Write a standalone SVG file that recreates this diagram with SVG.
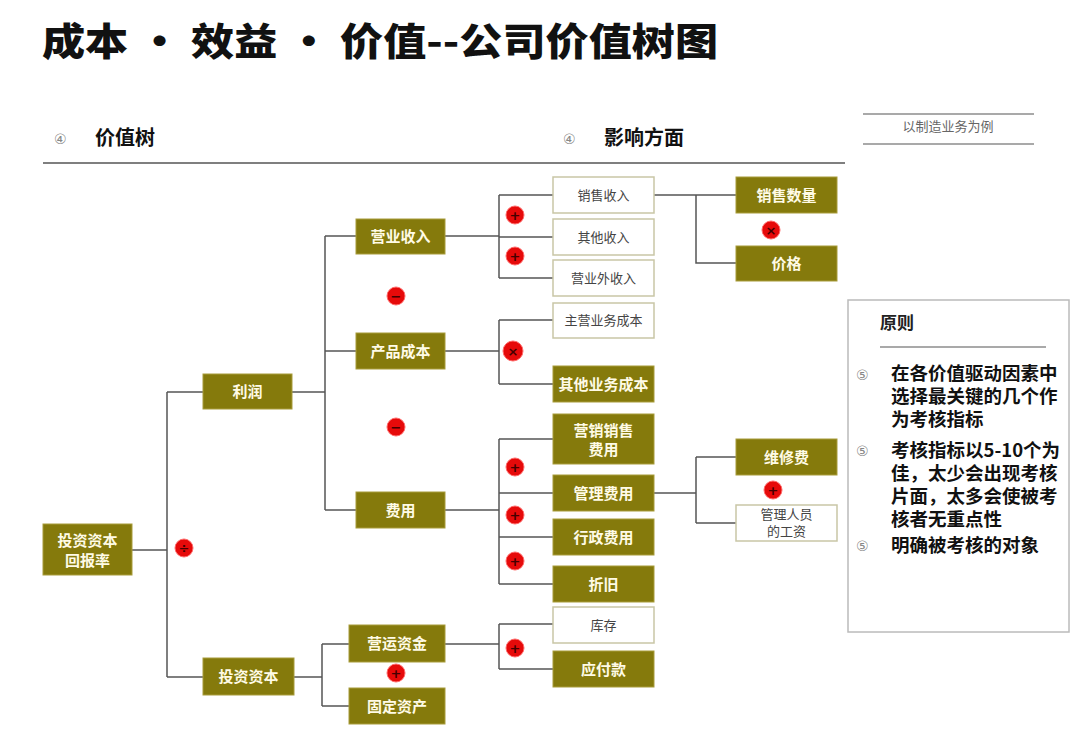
<svg xmlns="http://www.w3.org/2000/svg" width="1080" height="740" viewBox="0 0 1080 740">
<style>
.ol{fill:#857a0c;stroke:#a89c3a;stroke-width:1}
.wb{fill:#ffffff;stroke:#c9c6a6;stroke-width:1.5}
.tw{font-family:"Noto Sans CJK SC",sans-serif;font-weight:700;font-size:15px;fill:#fffbe6;text-anchor:middle}
.tg{font-family:"Noto Sans CJK SC",sans-serif;font-size:13px;fill:#444;text-anchor:middle}
.cn path,.cn line{fill:none;stroke:#555;stroke-width:1.5}
.op circle{fill:#e60a0a;stroke:#ff6b6b;stroke-width:1}
.op text{font-family:"DejaVu Sans",sans-serif;font-weight:700;font-size:13px;fill:#400;text-anchor:middle}
.hd{font-family:"Noto Sans CJK SC",sans-serif;font-weight:700;font-size:20px;fill:#111}
.bl{font-family:"DejaVu Sans",sans-serif;font-size:14px;fill:#888}
.pr{font-family:"Noto Sans CJK SC",sans-serif;font-weight:700;font-size:18.5px;fill:#111}
</style>
<rect width="1080" height="740" fill="#fff"/>
<text x="42" y="55" font-family="Noto Sans CJK SC,sans-serif" font-weight="900" font-size="38" fill="#111" textLength="676" lengthAdjust="spacingAndGlyphs">成本 · 效益 · 价值--公司价值树图</text>

<g id="headers">
<text class="bl" x="54" y="144">④</text>
<text class="hd" x="95" y="145">价值树</text>
<text class="bl" x="563" y="144">④</text>
<text class="hd" x="604" y="145">影响方面</text>
<line x1="43" y1="163" x2="845" y2="163" stroke="#555" stroke-width="1.5"/>
<line x1="863" y1="114" x2="1034" y2="114" stroke="#555" stroke-width="1.2"/>
<line x1="863" y1="144" x2="1034" y2="144" stroke="#555" stroke-width="1.2"/>
<text x="948" y="131" font-family="Noto Sans CJK SC,sans-serif" font-size="13" fill="#666" text-anchor="middle">以制造业务为例</text>
</g>

<g class="cn" id="connectors">
<path d="M132,550 H167 M167,392 V677 M167,392 H203 M167,677 H203"/>
<path d="M292,392 H325 M325,236 V510 M325,236 H356 M325,351 H356 M325,510 H356"/>
<path d="M445,236 H499 M499,195 V278 M499,195 H553 M499,237 H553 M499,278 H553"/>
<path d="M445,351 H499 M499,320 V384 M499,320 H553 M499,384 H553"/>
<path d="M445,510 H499 M499,439 V584 M499,439 H553 M499,493 H553 M499,537 H553 M499,584 H553"/>
<path d="M654,195 H736 M696,195 V263 H736"/>
<path d="M654,493 H696 M696,457 V523 M696,457 H736 M696,523 H736"/>
<path d="M294,677 H322 M322,644 V706 M322,644 H349 M322,706 H349"/>
<path d="M445,644 H499 M499,624 V669 M499,624 H553 M499,669 H553"/>
</g>

<g class="op" id="operators">
<circle cx="184" cy="548" r="9"/><text x="184" y="553">÷</text>
<circle cx="396" cy="296" r="9"/><text x="396" y="301">−</text>
<circle cx="396" cy="427" r="9"/><text x="396" y="432">−</text>
<circle cx="515" cy="215" r="9"/><text x="515" y="220">+</text>
<circle cx="515" cy="256" r="9"/><text x="515" y="261">+</text>
<circle cx="513" cy="351" r="10"/><text x="513" y="356">×</text>
<circle cx="515" cy="467" r="9"/><text x="515" y="472">+</text>
<circle cx="515" cy="515" r="9"/><text x="515" y="520">+</text>
<circle cx="515" cy="561" r="9"/><text x="515" y="566">+</text>
<circle cx="771" cy="230" r="9"/><text x="771" y="235">×</text>
<circle cx="773" cy="490" r="9"/><text x="773" y="495">+</text>
<circle cx="396" cy="673" r="9"/><text x="396" y="678">+</text>
<circle cx="515" cy="648" r="9"/><text x="515" y="653">+</text>
</g>

<g id="n-roic"><rect class="ol" x="43" y="524" width="89" height="51"/><text class="tw" x="87.5" y="546">投资资本</text><text class="tw" x="87.5" y="566">回报率</text></g>
<g id="n-profit"><rect class="ol" x="203" y="374" width="89" height="35"/><text class="tw" x="247.5" y="397">利润</text></g>
<g id="n-invcap"><rect class="ol" x="203" y="658" width="91" height="37"/><text class="tw" x="248.5" y="682">投资资本</text></g>
<g id="n-revenue"><rect class="ol" x="356" y="219" width="89" height="35"/><text class="tw" x="400.5" y="242">营业收入</text></g>
<g id="n-prodcost"><rect class="ol" x="356" y="333" width="89" height="36"/><text class="tw" x="400.5" y="357">产品成本</text></g>
<g id="n-expense"><rect class="ol" x="356" y="492" width="89" height="36"/><text class="tw" x="400.5" y="516">费用</text></g>
<g id="n-workcap"><rect class="ol" x="349" y="625" width="96" height="37"/><text class="tw" x="397" y="649">营运资金</text></g>
<g id="n-fixed"><rect class="ol" x="349" y="688" width="96" height="36"/><text class="tw" x="397" y="712">固定资产</text></g>

<g id="n-sales"><rect class="wb" x="553" y="177" width="101" height="36"/><text class="tg" x="603.5" y="200">销售收入</text></g>
<g id="n-otherinc"><rect class="wb" x="553" y="219" width="101" height="36"/><text class="tg" x="603.5" y="242">其他收入</text></g>
<g id="n-nonop"><rect class="wb" x="553" y="260" width="101" height="36"/><text class="tg" x="603.5" y="283">营业外收入</text></g>
<g id="n-maincost"><rect class="wb" x="553" y="303" width="101" height="35"/><text class="tg" x="603.5" y="325">主营业务成本</text></g>
<g id="n-othercost"><rect class="ol" x="553" y="366" width="101" height="36"/><text class="tw" x="603.5" y="390">其他业务成本</text></g>
<g id="n-mktexp"><rect class="ol" x="553" y="414" width="101" height="50"/><text class="tw" x="603.5" y="436">营销销售</text><text class="tw" x="603.5" y="455">费用</text></g>
<g id="n-mgmtexp"><rect class="ol" x="553" y="475" width="101" height="36"/><text class="tw" x="603.5" y="499">管理费用</text></g>
<g id="n-adminexp"><rect class="ol" x="553" y="519" width="101" height="36"/><text class="tw" x="603.5" y="543">行政费用</text></g>
<g id="n-depr"><rect class="ol" x="553" y="566" width="101" height="36"/><text class="tw" x="603.5" y="590">折旧</text></g>
<g id="n-inventory"><rect class="wb" x="553" y="607" width="101" height="36"/><text class="tg" x="603.5" y="630">库存</text></g>
<g id="n-payable"><rect class="ol" x="553" y="651" width="101" height="36"/><text class="tw" x="603.5" y="675">应付款</text></g>
<g id="n-qty"><rect class="ol" x="736" y="177" width="101" height="36"/><text class="tw" x="786.5" y="201">销售数量</text></g>
<g id="n-price"><rect class="ol" x="736" y="246" width="101" height="35"/><text class="tw" x="786.5" y="269">价格</text></g>
<g id="n-repair"><rect class="ol" x="736" y="439" width="101" height="36"/><text class="tw" x="786.5" y="463">维修费</text></g>
<g id="n-salary"><rect class="wb" x="736" y="505" width="101" height="36"/><text class="tg" x="786.5" y="519" font-size="12">管理人员</text><text class="tg" x="786.5" y="536" font-size="12">的工资</text></g>

<g id="principles">
<rect x="848" y="300" width="221" height="332" fill="#fff" stroke="#bbb" stroke-width="1.5"/>
<text x="880" y="329" font-family="Noto Sans CJK SC,sans-serif" font-weight="700" font-size="17" fill="#222">原则</text>
<line x1="880" y1="347" x2="1046" y2="347" stroke="#555" stroke-width="1.2"/>
<text class="bl" x="856" y="380">⑤</text>
<text class="pr" x="891" y="380"><tspan x="891">在各价值驱动因素中</tspan><tspan x="891" dy="23">选择最关键的几个作</tspan><tspan x="891" dy="23">为考核指标</tspan></text>
<text class="bl" x="856" y="456">⑤</text>
<text class="pr" x="891" y="457"><tspan x="891">考核指标以5-10个为</tspan><tspan x="891" dy="23">佳，太少会出现考核</tspan><tspan x="891" dy="23">片面，太多会使被考</tspan><tspan x="891" dy="23">核者无重点性</tspan></text>
<text class="bl" x="856" y="551">⑤</text>
<text class="pr" x="891" y="552">明确被考核的对象</text>
</g>
</svg>
